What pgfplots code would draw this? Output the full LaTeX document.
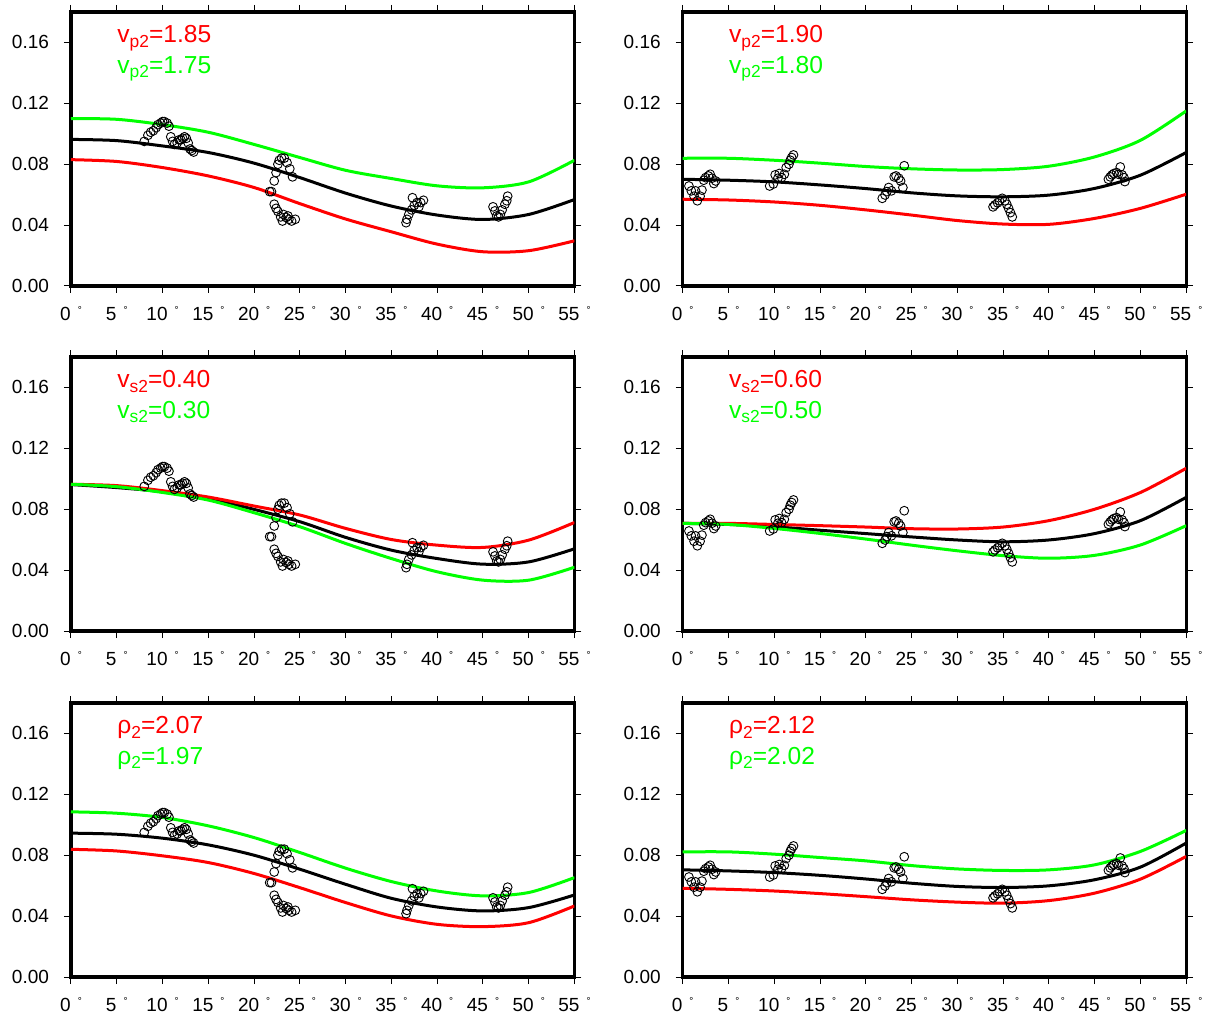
\documentclass[border=0pt]{standalone}
\usepackage{fontspec}
\setmainfont{Liberation Sans}
\usepackage{pgfplots}
\pgfplotsset{compat=1.18}
\usepackage{pgfplotstable}
\definecolor{pred}{RGB}{255,0,0}
\definecolor{pgreen}{RGB}{0,255,0}
\newcommand{\dg}{\hspace{3.5pt}\raisebox{3.5pt}{\fontsize{5}{5}\selectfont °}}
\newcommand{\sub}[1]{\raisebox{-2.2pt}{\fontsize{8.7}{9}\selectfont #1}}

\pgfplotstableread{
x y
8.0 0.095
8.4 0.099
8.7 0.101
9.0 0.102
9.3 0.104
9.5 0.106
9.8 0.107
10.0 0.108
10.2 0.108
10.5 0.107
10.7 0.105
10.9 0.098
11.1 0.095
11.3 0.093
11.6 0.094
11.8 0.096
12.0 0.096
12.2 0.097
12.4 0.098
12.6 0.097
12.8 0.094
13.0 0.090
13.2 0.089
13.4 0.088
21.7 0.062
21.9 0.062
22.2 0.069
22.4 0.0745
22.6 0.080
22.75 0.0826
23.0 0.084
23.3 0.084
23.6 0.081
23.9 0.077
24.2 0.0717
22.2 0.0537
22.4 0.051
22.6 0.049
22.9 0.0454
23.1 0.0427
23.2 0.047
23.5 0.045
23.7 0.046
23.8 0.0438
24.1 0.0427
24.5 0.0438
36.6 0.0416
36.7 0.0438
36.9 0.047
37.2 0.050
37.3 0.058
37.5 0.053
37.8 0.0548
38.0 0.052
38.2 0.0548
38.5 0.0563
46.1 0.052
46.3 0.0493
46.5 0.046
46.7 0.0454
46.9 0.047
47.1 0.050
47.4 0.0537
47.6 0.056
47.7 0.059
}\Ldata

\pgfplotstableread{
x y
0.68 0.0657
0.94 0.0625
1.24 0.059
1.4 0.0625
1.6 0.056
1.9 0.059
2.1 0.063
2.3 0.0695
2.5 0.0712
2.8 0.0723
3.0 0.0734
3.2 0.0708
3.4 0.0673
3.6 0.069
9.5 0.0657
9.9 0.067
10.1 0.073
10.4 0.0708
10.55 0.0739
10.8 0.0712
11.1 0.0734
11.3 0.0778
11.6 0.080
11.75 0.0826
11.9 0.0844
12.1 0.0861
21.8 0.0576
22.1 0.0598
22.3 0.062
22.5 0.0647
22.8 0.0625
23.1 0.0717
23.3 0.0723
23.6 0.0708
23.8 0.069
24.05 0.0647
24.2 0.079
33.9 0.052
34.1 0.0533
34.4 0.0546
34.6 0.056
34.9 0.0576
35.2 0.056
35.4 0.0537
35.6 0.051
35.8 0.0482
36.0 0.0454
46.5 0.0701
46.7 0.0717
46.9 0.073
47.1 0.0739
47.4 0.0745
47.6 0.0734
47.8 0.0782
48.0 0.073
48.2 0.0712
48.3 0.0686
}\Rdata

% panel 1: vp2, left
\pgfplotstableread{
x k r g
0 0.0963 0.0830 0.1100
5 0.0955 0.0818 0.1095
10 0.0920 0.0778 0.1060
15 0.0877 0.0723 0.1010
20 0.0807 0.0647 0.0930
25 0.0712 0.0541 0.0844
30 0.0610 0.0440 0.0760
35 0.0525 0.0356 0.0706
40 0.0466 0.0275 0.0658
45 0.0437 0.0225 0.0645
50 0.0470 0.0232 0.0684
55 0.0568 0.0297 0.0826
}\Pone

% panel 2: vp2, right
\pgfplotstableread{
x k r g
0 0.0701 0.0570 0.0839
5 0.0695 0.0565 0.0839
10 0.0684 0.0552 0.0826
15 0.0664 0.0530 0.0807
20 0.0640 0.0500 0.0785
25 0.0612 0.0466 0.0770
30 0.0592 0.0430 0.0762
35 0.0586 0.0407 0.0765
40 0.0597 0.0405 0.0787
45 0.0641 0.0444 0.0848
50 0.0728 0.0510 0.0957
55 0.0877 0.0603 0.1150
}\Ptwo

% panel 3: vs2, left
\pgfplotstableread{
x k r g
0 0.0962 0.0964 0.0964
5 0.0942 0.0955 0.0948
10 0.0915 0.0922 0.0910
15 0.0871 0.0880 0.0860
20 0.0799 0.0821 0.0777
25 0.0718 0.0762 0.0685
30 0.0615 0.0674 0.0575
35 0.0531 0.0601 0.0476
40 0.0476 0.0564 0.0389
45 0.0439 0.0549 0.0334
50 0.0454 0.0597 0.0334
55 0.0540 0.0713 0.0419
}\Pthree

% panel 4: vs2, right
\pgfplotstableread{
x k r g
0 0.0707 0.0707 0.0707
5 0.0700 0.0707 0.0700
10 0.0685 0.0700 0.0674
15 0.0662 0.0692 0.0641
20 0.0640 0.0683 0.0604
25 0.0618 0.0672 0.0564
30 0.0598 0.0670 0.0527
35 0.0586 0.0683 0.0495
40 0.0598 0.0725 0.0478
45 0.0640 0.0800 0.0497
50 0.0725 0.0910 0.0565
55 0.0878 0.1069 0.0692
}\Pfour

% panel 5: rho2, left
\pgfplotstableread{
x k r g
0 0.0945 0.0839 0.1085
5 0.0938 0.0828 0.1076
10 0.0912 0.0796 0.1048
15 0.0868 0.0752 0.0993
20 0.0800 0.0680 0.0916
25 0.0708 0.0587 0.0818
30 0.0609 0.0489 0.0715
35 0.0517 0.0401 0.0627
40 0.0460 0.0346 0.0565
45 0.0434 0.0331 0.0533
50 0.0456 0.0357 0.0555
55 0.0539 0.0467 0.0653
}\Pfive

% panel 6: rho2, right
\pgfplotstableread{
x k r g
0 0.0704 0.0583 0.0822
5 0.0697 0.0576 0.0822
10 0.0686 0.0565 0.0807
15 0.0668 0.0548 0.0785
20 0.0644 0.0528 0.0763
25 0.0616 0.0507 0.0732
30 0.0595 0.0492 0.0710
35 0.0588 0.0485 0.0700
40 0.0599 0.0502 0.0704
45 0.0639 0.0551 0.0737
50 0.0722 0.0643 0.0825
55 0.0880 0.0792 0.0963
}\Psix

\pgfplotsset{
  panel/.style={
    scale only axis, width=251.75pt, height=137pt,
    anchor=south west,
    xmin=0, xmax=55, ymin=0, ymax=0.18,
    xtick={0,5,...,55},
    xticklabels={0\dg,5\dg,10\dg,15\dg,20\dg,25\dg,30\dg,35\dg,40\dg,45\dg,50\dg,55\dg},
    ytick={0,0.04,0.08,0.12,0.16},
    yticklabels={0.00,0.04,0.08,0.12,0.16},
    tick align=outside, major tick length=3.5pt,
    tick style={black, line width=0.5pt},
    axis line style={line width=1.65pt},
    ticklabel style={font=\fontsize{9.5}{10}\selectfont},
    xticklabel style={yshift=-3pt},
    yticklabel style={xshift=-4pt},
  },
  kline/.style={black, line width=1.5pt, smooth},
  rline/.style={pred, line width=1.5pt, smooth},
  gline/.style={pgreen, line width=1.5pt, smooth},
  obs/.style={only marks, mark=o, mark size=2.2pt, mark options={black, line width=0.45pt}},
}
\tikzset{lab/.style={anchor=base west, inner sep=0pt, font=\fontsize{12.3}{13}\selectfont}}

\begin{document}
\begin{tikzpicture}
\useasboundingbox (0,0) rectangle (604pt,-507.5pt);

\begin{axis}[panel, at={(35.5pt,-143pt)}]
\addplot[kline] table[x=x,y=k] {\Pone};
\addplot[rline] table[x=x,y=r] {\Pone};
\addplot[gline] table[x=x,y=g] {\Pone};
\addplot[obs] table[x=x,y=y] {\Ldata};
\node[lab, text=pred] at (rel axis cs:0.0914,0.8876) {v\sub{p2}=1.85};
\node[lab, text=pgreen] at (rel axis cs:0.0914,0.7766) {v\sub{p2}=1.75};
\end{axis}

\begin{axis}[panel, at={(341.35pt,-143pt)}]
\addplot[kline] table[x=x,y=k] {\Ptwo};
\addplot[rline] table[x=x,y=r] {\Ptwo};
\addplot[gline] table[x=x,y=g] {\Ptwo};
\addplot[obs] table[x=x,y=y] {\Rdata};
\node[lab, text=pred] at (rel axis cs:0.0914,0.8876) {v\sub{p2}=1.90};
\node[lab, text=pgreen] at (rel axis cs:0.0914,0.7766) {v\sub{p2}=1.80};
\end{axis}

\begin{axis}[panel, at={(35.5pt,-315.5pt)}]
\addplot[kline] table[x=x,y=k] {\Pthree};
\addplot[rline] table[x=x,y=r] {\Pthree};
\addplot[gline] table[x=x,y=g] {\Pthree};
\addplot[obs] table[x=x,y=y] {\Ldata};
\node[lab, text=pred] at (rel axis cs:0.0914,0.8876) {v\sub{s2}=0.40};
\node[lab, text=pgreen] at (rel axis cs:0.0914,0.7766) {v\sub{s2}=0.30};
\end{axis}

\begin{axis}[panel, at={(341.35pt,-315.5pt)}]
\addplot[kline] table[x=x,y=k] {\Pfour};
\addplot[rline] table[x=x,y=r] {\Pfour};
\addplot[gline] table[x=x,y=g] {\Pfour};
\addplot[obs] table[x=x,y=y] {\Rdata};
\node[lab, text=pred] at (rel axis cs:0.0914,0.8876) {v\sub{s2}=0.60};
\node[lab, text=pgreen] at (rel axis cs:0.0914,0.7766) {v\sub{s2}=0.50};
\end{axis}

\begin{axis}[panel, at={(35.5pt,-488.5pt)}]
\addplot[kline] table[x=x,y=k] {\Pfive};
\addplot[rline] table[x=x,y=r] {\Pfive};
\addplot[gline] table[x=x,y=g] {\Pfive};
\addplot[obs] table[x=x,y=y] {\Ldata};
\node[lab, text=pred] at (rel axis cs:0.0914,0.8876) {ρ\sub{2}=2.07};
\node[lab, text=pgreen] at (rel axis cs:0.0914,0.7766) {ρ\sub{2}=1.97};
\end{axis}

\begin{axis}[panel, at={(341.35pt,-488.5pt)}]
\addplot[kline] table[x=x,y=k] {\Psix};
\addplot[rline] table[x=x,y=r] {\Psix};
\addplot[gline] table[x=x,y=g] {\Psix};
\addplot[obs] table[x=x,y=y] {\Rdata};
\node[lab, text=pred] at (rel axis cs:0.0914,0.8876) {ρ\sub{2}=2.12};
\node[lab, text=pgreen] at (rel axis cs:0.0914,0.7766) {ρ\sub{2}=2.02};
\end{axis}
\end{tikzpicture}
\end{document}
